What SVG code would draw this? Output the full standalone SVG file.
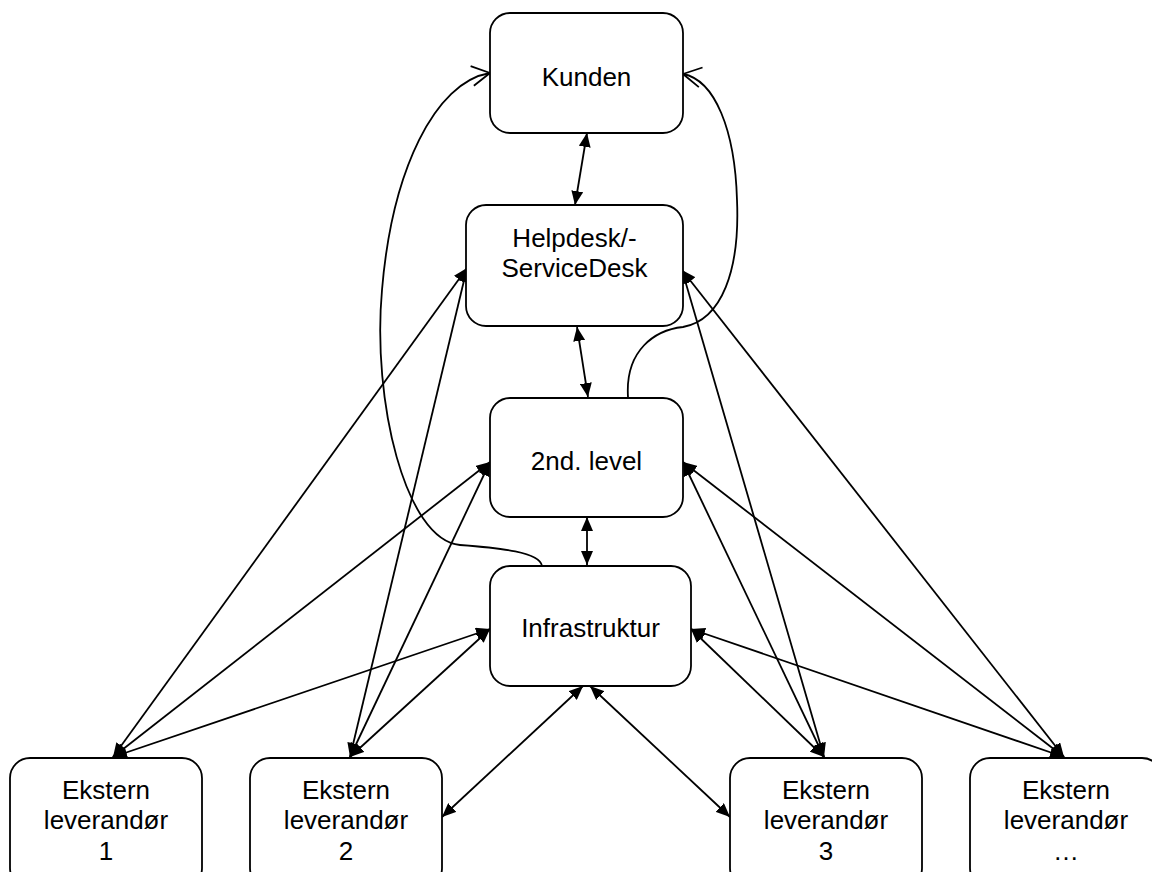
<svg xmlns="http://www.w3.org/2000/svg" width="1152" height="872" viewBox="0 0 1152 872">
<style>
.box{fill:#fff;stroke:#000;stroke-width:1.8}
.t{font-family:"Liberation Sans",Arial,sans-serif;font-size:26px;fill:#000;text-anchor:middle}
.c{fill:none;stroke:#000;stroke-width:1.8;marker-start:url(#arr);marker-end:url(#arr)}
.cv{fill:none;stroke:#000;stroke-width:1.8;marker-end:url(#open)}
</style>
<defs>
<marker id="arr" viewBox="0 0 14 12" refX="14" refY="6" markerWidth="14" markerHeight="12" markerUnits="userSpaceOnUse" orient="auto-start-reverse">
<path d="M0,0 L14,6 L0,12 z" fill="#000"/>
</marker>
<marker id="open" viewBox="-2 -2 22 24" refX="18" refY="10" markerWidth="22" markerHeight="24" markerUnits="userSpaceOnUse" orient="auto">
<path d="M0,0 L18,10 L0,20" fill="none" stroke="#000" stroke-width="1.8"/>
</marker>
</defs>
<rect width="1152" height="872" fill="#fff"/>
<g id="connectors">
<line class="c" x1="587" y1="133" x2="575" y2="205"/>
<line class="c" x1="577" y1="327" x2="588" y2="397"/>
<line class="c" x1="587" y1="517" x2="587" y2="565"/>
<line class="c" x1="467" y1="268" x2="113" y2="757"/>
<line class="c" x1="467" y1="268" x2="350" y2="757"/>
<line class="c" x1="490" y1="462" x2="113" y2="757"/>
<line class="c" x1="490" y1="462" x2="350" y2="757"/>
<line class="c" x1="490" y1="629" x2="113" y2="757"/>
<line class="c" x1="490" y1="629" x2="350" y2="757"/>
<line class="c" x1="682" y1="270" x2="824" y2="757"/>
<line class="c" x1="682" y1="270" x2="1064" y2="757"/>
<line class="c" x1="683" y1="462" x2="824" y2="757"/>
<line class="c" x1="683" y1="462" x2="1064" y2="757"/>
<line class="c" x1="691" y1="629" x2="824" y2="757"/>
<line class="c" x1="691" y1="629" x2="1064" y2="757"/>
<line class="c" x1="583" y1="686" x2="442" y2="817"/>
<line class="c" x1="590" y1="686" x2="730" y2="817"/>
<path class="cv" d="M542,566 C540,552 500,548 460,545 C405,540 372,400 382,290 C392,170 435,82 490,73"/>
<path class="cv" d="M628,397 C625,350 655,330 683,327 C722,320 740,270 737,200 C735,130 715,80 683,74"/>
</g>
<g id="kunden"><rect class="box" x="490" y="13" width="193" height="120" rx="20"/><text class="t" x="586.5" y="86">Kunden</text></g>
<g id="helpdesk"><rect class="box" x="466" y="205" width="217" height="121" rx="20"/><text class="t" x="574.5" y="247">Helpdesk/-</text><text class="t" x="574.5" y="277">ServiceDesk</text></g>
<g id="level2"><rect class="box" x="490" y="398" width="193" height="119" rx="20"/><text class="t" x="586.5" y="470">2nd. level</text></g>
<g id="infra"><rect class="box" x="490" y="566" width="201" height="120" rx="20"/><text class="t" x="590.5" y="637">Infrastruktur</text></g>
<g id="ext1"><rect class="box" x="10" y="758" width="192" height="130" rx="20"/><text class="t" x="106" y="799">Ekstern</text><text class="t" x="106" y="829">leverandør</text><text class="t" x="106" y="860">1</text></g>
<g id="ext2"><rect class="box" x="250" y="758" width="192" height="130" rx="20"/><text class="t" x="346" y="799">Ekstern</text><text class="t" x="346" y="829">leverandør</text><text class="t" x="346" y="860">2</text></g>
<g id="ext3"><rect class="box" x="730" y="758" width="192" height="130" rx="20"/><text class="t" x="826" y="799">Ekstern</text><text class="t" x="826" y="829">leverandør</text><text class="t" x="826" y="860">3</text></g>
<g id="ext4"><rect class="box" x="970" y="758" width="192" height="130" rx="20"/><text class="t" x="1066" y="799">Ekstern</text><text class="t" x="1066" y="829">leverandør</text><text class="t" x="1066" y="860">…</text></g>
</svg>
